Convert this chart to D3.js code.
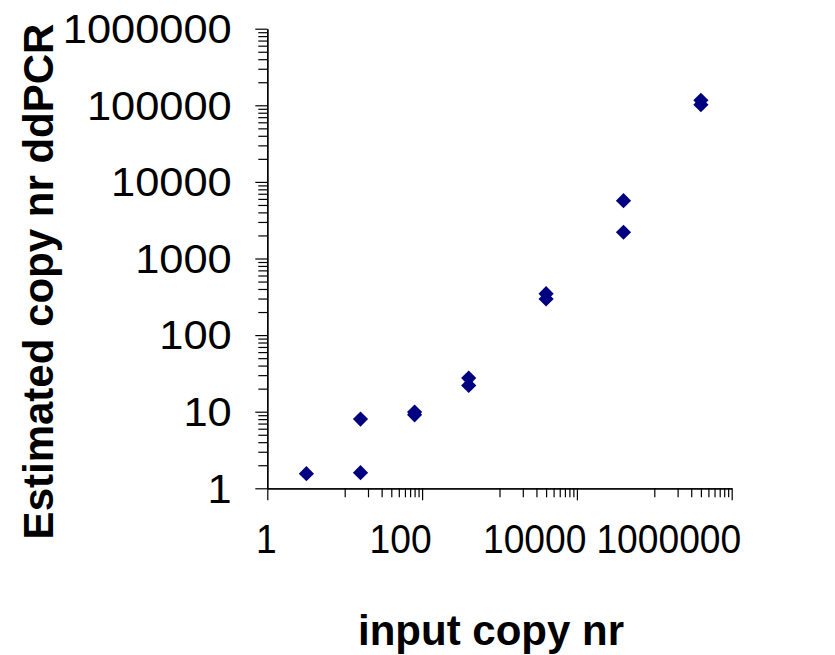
<!DOCTYPE html>
<html>
<head>
<meta charset="utf-8">
<script src="https://cdn.jsdelivr.net/npm/d3@7"></script>
<style>
  html, body { margin: 0; padding: 0; background: #fff; }
  svg { display: block; }
  text { font-family: "Liberation Sans", Arial, sans-serif; fill: #000; }
</style>
</head>
<body>
<script>
// ---- data ----
const inputCopies = [3.2, 16, 16, 80, 80, 400, 400, 4000, 4000, 40000, 40000, 400000, 400000];
const estimatedCopies = [1.55, 1.6, 8, 9.9, 9.1, 27.5, 22, 347, 296, 5690, 2200, 116000, 102000];
const xTickLabels = [1, 100, 10000, 1000000];
const yTickLabels = [1, 10, 100, 1000, 10000, 100000, 1000000];
const xTitle = "input copy nr";
const yTitle = "Estimated copy nr ddPCR";

// ---- layout ----
const W = 835, H = 655;
const svg = d3.select("body").append("svg").attr("width", W).attr("height", H);

const x = d3.scaleLog().domain([1, 1e6]).range([267.3, 731.7]);
const y = d3.scaleLog().domain([1, 1e6]).range([488.3, 28.7]);

// minor tick values
const yMinor = [];
for (let e = 0; e < 6; e++) for (let m = 2; m <= 9; m++) yMinor.push(m * Math.pow(10, e));
const xMinor = [];
for (let e = 1; e < 6; e += 2) for (let m = 1; m <= 9; m++) xMinor.push(m * Math.pow(10, e));

function styleAxis(g) {
  g.selectAll("path").attr("stroke", "#000").attr("stroke-width", 1.3);
  g.selectAll("line").attr("stroke", "#000").attr("stroke-width", 1.2);
  g.selectAll("text").remove();
}

// Y axis
svg.append("g").attr("transform", `translate(${x.range()[0]},0)`)
  .call(d3.axisLeft(y).tickValues(yMinor).tickSize(9).tickSizeOuter(0).tickFormat(""))
  .call(styleAxis);
svg.append("g").attr("transform", `translate(${x.range()[0]},0)`)
  .call(d3.axisLeft(y).tickValues(yTickLabels).tickSize(12).tickSizeOuter(0).tickFormat(""))
  .call(styleAxis);

// X axis
svg.append("g").attr("transform", `translate(0,${y.range()[0]})`)
  .call(d3.axisBottom(x).tickValues(xMinor).tickSize(9).tickSizeOuter(0).tickFormat(""))
  .call(styleAxis);
svg.append("g").attr("transform", `translate(0,${y.range()[0]})`)
  .call(d3.axisBottom(x).tickValues(xTickLabels).tickSize(12).tickSizeOuter(0).tickFormat(""))
  .call(styleAxis);

// Y tick labels
svg.append("g").selectAll("text").data(yTickLabels).join("text")
  .attr("transform", d => `translate(${x.range()[0] - 35.6},${y(d) + 14.3}) scale(1.085,1)`)
  .attr("text-anchor", "end")
  .style("font-size", "40px")
  .text(d => String(d));

// X tick labels
svg.append("g").selectAll("text").data(xTickLabels).join("text")
  .attr("transform", d => `translate(${x(d) + 9.5},${y.range()[0] + 65}) scale(0.93,1)`)
  .attr("text-anchor", "end")
  .style("font-size", "40px")
  .text(d => String(d));

// Titles
svg.append("text")
  .attr("x", 491).attr("y", 645)
  .attr("text-anchor", "middle")
  .style("font-size", "42px").style("font-weight", "bold")
  .text(xTitle);

svg.append("text")
  .attr("transform", "translate(53.3,281.5) rotate(-90)")
  .attr("text-anchor", "middle")
  .style("font-size", "42px").style("font-weight", "bold")
  .text(yTitle);

// Points (diamonds)
const pts = inputCopies.map((v, i) => [v, estimatedCopies[i]]);
const r = 7.6;
svg.append("g").selectAll("path").data(pts).join("path")
  .attr("d", d => {
    const cx = x(d[0]), cy = y(d[1]);
    return `M${cx - r},${cy}L${cx},${cy - r}L${cx + r},${cy}L${cx},${cy + r}Z`;
  })
  .attr("fill", "#000080");
</script>
</body>
</html>
